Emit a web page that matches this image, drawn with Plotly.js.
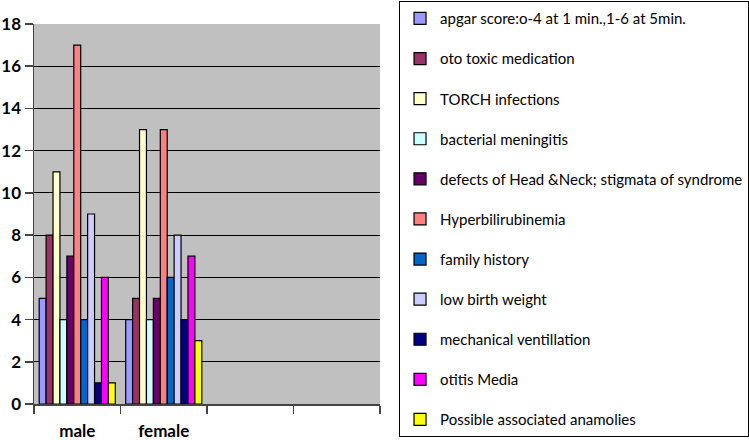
<!DOCTYPE html>
<html>
<head>
<meta charset="utf-8">
<script src="https://cdn.plot.ly/plotly-3.0.1.min.js"></script>
<style>html,body{margin:0;padding:0;background:#fff;}#chart{width:749px;height:440px;}</style>
</head>
<body>
<div id="chart"></div>
<script>
const categories = ["male", "female", " ", "  "];
const seriesNames = [
  "apgar score:o-4 at 1 min.,1-6 at 5min.",
  "oto toxic medication",
  "TORCH infections",
  "bacterial meningitis",
  "defects of Head &Neck; stigmata of syndrome",
  "Hyperbilirubinemia",
  "family history",
  "low birth weight",
  "mechanical ventillation",
  "otitis Media",
  "Possible associated anamolies"
];
const maleValues   = [5, 8, 11, 4, 7, 17, 4, 9, 1, 6, 1];
const femaleValues = [4, 5, 13, 4, 5, 13, 6, 8, 4, 7, 3];
const seriesColors = ["#9999FF", "#993366", "#FFFFCC", "#CCFFFF", "#660066", "#FF8080",
                      "#0066CC", "#CCCCFF", "#000080", "#FF00FF", "#FFFF00"];
const yTicks = [0, 2, 4, 6, 8, 10, 12, 14, 16, 18];

const traces = seriesNames.map((name, i) => ({
  type: "bar",
  name: name,
  legendgroup: "g" + i,
  x: categories.slice(0, 2),
  y: [maleValues[i], femaleValues[i]],
  marker: {color: seriesColors[i], line: {color: "#000", width: 1.2}}
}));

const layout = {
  width: 749, height: 440,
  margin: {l: 34, r: 369, t: 24, b: 36, autoexpand: false},
  paper_bgcolor: "#fff",
  plot_bgcolor: "#c0c0c0",
  barmode: "group",
  bargap: 0.12,
  bargroupgap: 0,
  showlegend: true,
  font: {family: "Lato, 'Open Sans', sans-serif", color: "#000"},
  xaxis: {
    type: "category",
    categoryorder: "array",
    categoryarray: categories,
    range: [-0.5, 3.5],
    tickson: "boundaries",
    ticks: "outside",
    ticklen: 8,
    tickcolor: "#444",
    tickwidth: 1.5,
    showline: true,
    linecolor: "#444",
    linewidth: 1.5,
    showgrid: false,
    ticklabelstandoff: 11,
    tickfont: {family: "Lato, sans-serif", size: 17, weight: "bold", color: "#000"},
    fixedrange: true
  },
  yaxis: {
    range: [0, 18],
    tickvals: yTicks,
    ticks: "outside",
    ticklen: 8,
    tickcolor: "#444",
    tickwidth: 1.5,
    showline: true,
    linecolor: "#444",
    linewidth: 1.5,
    showgrid: true,
    gridcolor: "#000",
    gridwidth: 1.2,
    zeroline: false,
    tickfont: {family: "Lato, sans-serif", size: 17, weight: "bold", color: "#000"},
    fixedrange: true
  },
  legend: {
    x: 1.055, xanchor: "left",
    y: 1.06, yanchor: "top",
    maxheight: 440,
    bordercolor: "#000",
    borderwidth: 1,
    bgcolor: "#fff",
    traceorder: "grouped",
    tracegroupgap: 17.6,
    font: {family: "Lato, sans-serif", size: 15, color: "#000"}
  }
};

Plotly.newPlot("chart", traces, layout, {staticPlot: true, displayModeBar: false});
</script>
</body>
</html>
